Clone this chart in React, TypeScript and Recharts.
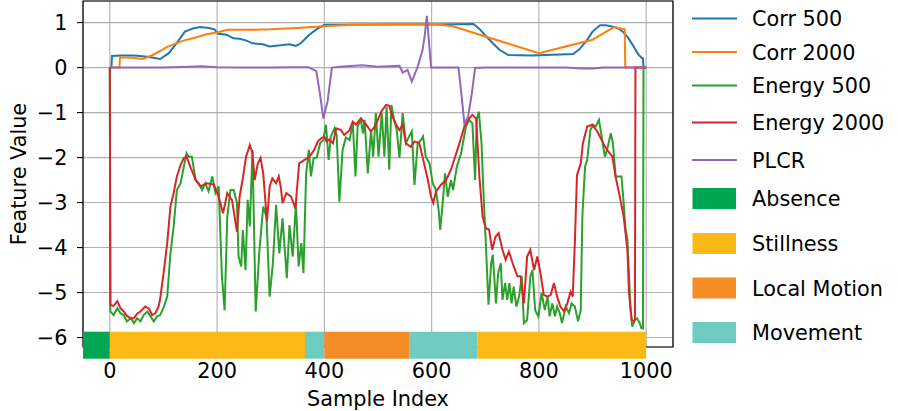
import React from 'react';
import { LineChart, Line, XAxis, YAxis, CartesianGrid, ReferenceArea } from 'recharts';

// sample index / value pairs
const corr500Idx = [0, 3, 4, 20, 45, 70, 94, 110, 125, 140, 155, 168, 185, 195, 202, 218, 230, 242, 255, 266, 285, 298, 335, 347, 356, 372, 388, 400, 500, 600, 678, 690, 702, 715, 727, 743, 788, 864, 875, 889, 900, 914, 925, 938, 948, 957, 966, 975, 985, 991, 994, 995, 1000];
const corr500 = [0, 0, 0.26, 0.27, 0.27, 0.24, 0.19, 0.32, 0.55, 0.8, 0.87, 0.9, 0.88, 0.85, 0.75, 0.73, 0.65, 0.64, 0.6, 0.54, 0.52, 0.47, 0.52, 0.48, 0.54, 0.73, 0.87, 0.95, 0.96, 0.96, 0.97, 0.85, 0.69, 0.53, 0.39, 0.28, 0.27, 0.3, 0.4, 0.6, 0.8, 0.94, 0.94, 0.91, 0.87, 0.79, 0.67, 0.5, 0.3, 0.22, 0.2, 0, 0];

const corr2000Idx = [0, 18, 19, 40, 62, 80, 100, 107, 137, 160, 180, 200, 220, 260, 300, 350, 400, 450, 500, 550, 600, 640, 700, 760, 800, 850, 900, 920, 940, 960, 961, 1000];
const corr2000 = [0, 0, 0.23, 0.22, 0.19, 0.28, 0.41, 0.46, 0.6, 0.67, 0.74, 0.78, 0.84, 0.84, 0.85, 0.88, 0.92, 0.95, 0.96, 0.97, 0.97, 0.92, 0.69, 0.47, 0.32, 0.47, 0.62, 0.76, 0.9, 0.85, 0, 0];

const energy500Idx = [0, 1, 7, 14, 20, 26, 32, 39, 45, 51, 57, 63, 70, 76, 82, 88, 94, 101, 107, 113, 119, 125, 132, 138, 143, 147, 153, 160, 166, 172, 178, 184, 191, 197, 203, 209, 214, 219, 225, 231, 237, 240, 245, 248, 253, 257, 261, 266, 272, 279, 286, 292, 298, 304, 310, 316, 322, 330, 335, 341, 347, 352, 357, 361, 366, 371, 375, 380, 386, 392, 398, 403, 408, 412, 419, 423, 428, 434, 440, 447, 453, 458, 462, 468, 472, 475, 481, 487, 491, 496, 501, 507, 512, 516, 521, 525, 530, 535, 540, 546, 552, 558, 563, 568, 574, 580, 584, 589, 596, 602, 608, 613, 616, 620, 625, 630, 636, 640, 647, 655, 664, 670, 676, 681, 684, 688, 693, 697, 701, 706, 711, 714, 720, 724, 729, 732, 737, 741, 745, 749, 753, 758, 763, 768, 772, 778, 784, 788, 793, 799, 805, 811, 816, 820, 825, 830, 834, 839, 843, 850, 856, 861, 867, 873, 878, 881, 886, 890, 896, 901, 906, 912, 918, 923, 927, 934, 938, 943, 949, 954, 958, 961, 965, 968, 971, 974, 979, 983, 988, 991, 994, 995, 1000];
const energy500 = [0, -5.42, -5.5, -5.35, -5.46, -5.5, -5.64, -5.57, -5.68, -5.57, -5.64, -5.5, -5.42, -5.53, -5.64, -5.53, -5.5, -5.31, -5.09, -4.13, -3.53, -2.72, -2.57, -2.2, -1.9, -1.98, -1.98, -2.5, -2.57, -2.72, -2.57, -2.75, -2.42, -2.79, -2.64, -4.64, -5.39, -3.31, -2.72, -2.72, -3.0, -4.2, -4.42, -3.61, -4.5, -2.94, -3.53, -1.83, -5.42, -4.05, -3.09, -3.31, -5.09, -4.35, -3.05, -4.13, -3.35, -4.68, -3.5, -4.2, -3.01, -4.42, -3.9, -4.57, -2.35, -1.83, -2.42, -2.01, -2.0, -1.68, -1.61, -1.27, -2.05, -1.53, -1.35, -1.5, -2.98, -1.83, -1.55, -1.61, -1.24, -2.42, -1.31, -1.16, -1.46, -1.16, -2.35, -1.4, -1.98, -1.01, -1.98, -1.01, -1.98, -0.87, -2.27, -0.83, -1.16, -1.39, -2.01, -1.01, -1.68, -1.53, -1.42, -2.61, -1.68, -1.61, -1.53, -1.98, -2.13, -2.57, -2.72, -3.16, -3.61, -3.09, -2.35, -2.87, -2.5, -2.72, -2.2, -1.9, -1.31, -1.16, -1.24, -2.5, -1.16, -0.98, -1.68, -2.87, -3.9, -5.27, -4.35, -4.16, -5.24, -4.57, -4.35, -5.16, -4.79, -5.16, -4.79, -5.24, -4.87, -5.31, -5.09, -4.64, -5.68, -5.61, -4.64, -4.5, -5.39, -5.53, -5.01, -5.39, -5.09, -5.53, -5.24, -5.53, -5.31, -5.46, -5.68, -5.31, -5.46, -5.24, -5.31, -5.64, -5.39, -3.31, -2.2, -2.05, -1.39, -1.27, -1.31, -1.16, -1.61, -1.98, -1.83, -1.46, -1.68, -2.42, -2.42, -2.42, -3.01, -3.53, -3.83, -4.64, -5.39, -5.76, -5.61, -5.57, -5.68, -5.79, -5.8, 0, 0];

const energy2000Idx = [0, 1, 7, 14, 20, 26, 32, 39, 45, 51, 57, 66, 73, 79, 85, 91, 94, 101, 107, 113, 119, 125, 132, 138, 143, 150, 160, 169, 181, 194, 203, 211, 219, 228, 237, 242, 248, 254, 261, 266, 270, 276, 281, 286, 293, 298, 303, 310, 315, 319, 322, 329, 338, 346, 353, 363, 372, 381, 388, 394, 400, 404, 409, 416, 422, 431, 437, 447, 453, 459, 468, 478, 487, 496, 506, 515, 521, 527, 534, 540, 546, 552, 561, 568, 577, 583, 593, 599, 603, 608, 617, 627, 636, 645, 652, 661, 670, 676, 683, 689, 695, 701, 707, 713, 719, 725, 732, 738, 744, 753, 760, 766, 772, 778, 784, 791, 797, 803, 809, 816, 822, 828, 834, 840, 847, 853, 859, 863, 867, 871, 878, 882, 890, 899, 909, 918, 927, 937, 943, 952, 958, 965, 968, 973, 977, 979, 980, 1000];
const energy2000 = [0, -5.27, -5.3, -5.19, -5.35, -5.42, -5.52, -5.57, -5.57, -5.47, -5.42, -5.31, -5.36, -5.5, -5.46, -5.31, -5.13, -4.5, -3.9, -3.09, -2.79, -2.42, -2.16, -2.01, -1.98, -2.2, -2.5, -2.64, -2.57, -2.6, -2.87, -3.24, -2.79, -2.95, -3.65, -2.87, -2.46, -1.98, -1.72, -1.9, -2.5, -2.13, -2.01, -2.35, -3.42, -2.64, -2.46, -2.57, -2.42, -2.68, -3.01, -2.79, -2.87, -3.13, -2.13, -2.05, -1.98, -1.83, -1.64, -1.57, -1.53, -1.64, -1.6, -1.68, -1.35, -1.39, -1.5, -1.39, -1.2, -1.27, -1.13, -1.27, -1.42, -1.27, -0.98, -0.83, -0.85, -1.09, -1.27, -1.39, -1.27, -1.68, -1.76, -1.64, -1.68, -1.98, -2.5, -2.87, -3.01, -2.76, -2.61, -2.5, -2.27, -1.94, -1.68, -1.31, -1.13, -1.05, -1.13, -2.42, -3.31, -3.57, -3.6, -4.05, -3.76, -3.68, -4.05, -4.27, -4.09, -4.42, -4.64, -4.64, -5.24, -4.2, -4.05, -4.5, -4.2, -4.57, -5.05, -5.09, -5.05, -4.79, -5.09, -5.31, -5.42, -5.24, -4.98, -5.09, -3.9, -2.39, -2.13, -1.68, -1.31, -1.27, -1.42, -1.64, -1.83, -1.98, -2.42, -2.94, -3.31, -4.05, -5.01, -5.61, -5.64, -5.6, 0, 0];

const plcrIdx = [0, 100, 150, 170, 200, 250, 300, 340, 370, 385, 392, 398, 406, 414, 430, 470, 500, 540, 546, 555, 563, 574, 583, 587, 591, 599, 650, 656, 661, 668, 675, 681, 700, 850, 880, 900, 920, 1000];
const plcr = [0, 0, 0.02, 0.03, 0.01, 0, 0, 0.01, 0.01, -0.08, -0.6, -1.13, -0.75, 0, 0.02, 0.05, 0.02, 0.04, -0.11, -0.05, -0.31, 0.02, 0.39, 0.7, 1.15, 0, 0, -0.64, -1.24, -1.09, -0.57, -0.01, 0, 0, -0.02, -0.02, 0, 0];

// activity state strip along the bottom
const stateStart = [-50, 0, 364, 400, 558, 685];
const stateEnd = [0, 364, 400, 558, 685, 1000];
const stateName = ['Absence', 'Stillness', 'Movement', 'Local Motion', 'Movement', 'Stillness'];

const xTicks = [0, 200, 400, 600, 800, 1000];
const yTicks = [-6, -5, -4, -3, -2, -1, 0, 1];

const stateColors: Record<string, string> = {
  Absence: '#00a651',
  Stillness: '#fbb917',
  'Local Motion': '#f58d26',
  Movement: '#6fcabf',
};

const zip = (idx: number[], vals: number[]) => idx.map((x, i) => ({ x, y: vals[i] }));

const series = [
  { name: 'Corr 500', color: '#1f77b4', data: zip(corr500Idx, corr500) },
  { name: 'Corr 2000', color: '#ff7f0e', data: zip(corr2000Idx, corr2000) },
  { name: 'Energy 500', color: '#2ca02c', data: zip(energy500Idx, energy500) },
  { name: 'Energy 2000', color: '#d62728', data: zip(energy2000Idx, energy2000) },
  { name: 'PLCR', color: '#9467bd', data: zip(plcrIdx, plcr) },
];

const FONT = '"DejaVu Sans", sans-serif';
const FS = 20.8;

const fmt = (v: number) => (v < 0 ? `\u2212${Math.abs(v)}` : `${v}`);

const lineRows = [18.5, 52, 85.5, 122.5, 160];
const patchRows = [198.5, 243.5, 288, 332.5];
const legendStates = ['Absence', 'Stillness', 'Local Motion', 'Movement'];

export default function App() {
  return (
    <div style={{ position: 'absolute', left: 0, top: 0, width: 898, height: 411, background: '#fff' }}>
      <LineChart width={898} height={411} margin={{ top: 1, right: 225, bottom: 0, left: 0 }}>
        <CartesianGrid stroke="#b0b0b0" strokeWidth={1.1} />
        <XAxis
          dataKey="x"
          type="number"
          domain={[-50, 1050]}
          ticks={xTicks}
          allowDataOverflow
          height={64}
          axisLine={false}
          tickLine={false}
          tickSize={6}
          tickMargin={10}
          tick={{ fill: '#000', fontSize: FS, fontFamily: FONT }}
          label={{ value: 'Sample Index', position: 'insideBottom', offset: 5.5, fill: '#000', fontSize: FS, fontFamily: FONT }}
        />
        <YAxis
          type="number"
          domain={[-6.21, 1.48]}
          ticks={yTicks}
          allowDataOverflow
          width={83}
          axisLine={false}
          tickLine={{ stroke: '#000', strokeWidth: 1.1 }}
          tickSize={6}
          tickMargin={9.5}
          tickFormatter={fmt}
          tick={{ fill: '#000', fontSize: FS, fontFamily: FONT }}
          label={{ value: 'Feature Value', angle: -90, position: 'center', dx: -23, fill: '#000', fontSize: FS, fontFamily: FONT }}
        />
        <ReferenceArea x1={-50} x2={1050} y1={-6.21} y2={1.48} ifOverflow="visible" fill="none" stroke="#000" strokeWidth={1.2} />
        {series.map((s) => (
          <Line
            key={s.name}
            data={s.data}
            dataKey="y"
            name={s.name}
            type="linear"
            stroke={s.color}
            strokeWidth={2}
            dot={false}
            activeDot={false}
            isAnimationActive={false}
          />
        ))}
        {stateStart.map((x0, i) => (
          <ReferenceArea
            key={i}
            x1={x0}
            x2={stateEnd[i]}
            y1={-6.47}
            y2={-5.87}
            ifOverflow="visible"
            fill={stateColors[stateName[i]]}
            fillOpacity={1}
            stroke="none"
          />
        ))}
      </LineChart>
      <svg width={218} height={360} style={{ position: 'absolute', left: 680, top: 0 }}>
        {series.map((s, i) => (
          <g key={s.name}>
            <line x1={12} x2={57} y1={lineRows[i]} y2={lineRows[i]} stroke={s.color} strokeWidth={2} />
            <text x={72} y={lineRows[i] + 7.5} fontSize={FS} fontFamily={FONT} fill="#000">{s.name}</text>
          </g>
        ))}
        {legendStates.map((n, i) => (
          <g key={n}>
            <rect x={12.5} y={patchRows[i] - 10.5} width={43.5} height={21} fill={stateColors[n]} />
            <text x={72} y={patchRows[i] + 7.5} fontSize={FS} fontFamily={FONT} fill="#000">{n}</text>
          </g>
        ))}
      </svg>
    </div>
  );
}
